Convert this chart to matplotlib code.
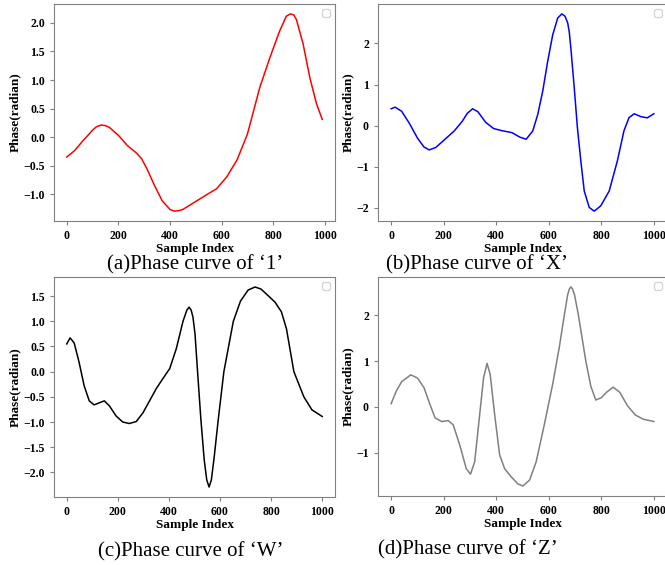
import matplotlib
matplotlib.use('Agg')
import matplotlib.pyplot as plt

plt.rcParams['font.family'] = ['Liberation Serif', 'DejaVu Serif']

# (a) '1'
x_1 = [0, 30, 60, 100, 115, 133, 150, 165, 200, 235, 270, 290, 310, 340, 370, 400, 410,
       420, 435, 450, 500, 550, 580, 620, 660, 700, 748, 787, 825, 851, 867, 880, 890,
       916, 942, 968, 990]
y_1 = [-0.35, -0.24, -0.08, 0.12, 0.18, 0.21, 0.20, 0.17, 0.03, -0.15, -0.28, -0.38,
       -0.55, -0.85, -1.12, -1.27, -1.29, -1.30, -1.29, -1.27, -1.13, -0.99, -0.91, -0.70,
       -0.40, 0.05, 0.87, 1.39, 1.86, 2.12, 2.16, 2.14, 2.06, 1.63, 1.04, 0.58, 0.31]

# (b) 'X'
x_X = [0, 15, 40, 70, 100, 125, 145, 170, 200, 240, 270, 290, 310, 330, 360, 390, 420,
       460, 490, 514, 539, 558, 577, 596, 615, 634, 650, 662, 672, 678, 684, 697, 709,
       722, 735, 754, 773, 798, 830, 861, 886, 905, 925, 950, 975, 1000]
y_X = [0.41, 0.45, 0.35, 0.05, -0.30, -0.52, -0.59, -0.53, -0.36, -0.13, 0.10, 0.30,
       0.41, 0.34, 0.08, -0.07, -0.12, -0.17, -0.28, -0.33, -0.13, 0.27, 0.84, 1.57, 2.21,
       2.62, 2.72, 2.66, 2.50, 2.28, 1.89, 0.92, -0.05, -0.86, -1.59, -1.99, -2.08, -1.95,
       -1.59, -0.86, -0.13, 0.19, 0.29, 0.22, 0.19, 0.29]

# (c) 'W'
x_W = [0, 13, 29, 48, 68, 88, 107, 127, 147, 167, 193, 219, 245, 272, 298, 324, 350,
       376, 403, 429, 455, 470, 479, 487, 494, 502, 512, 525, 538, 548, 557, 566, 577,
       593, 615, 652, 680, 710, 737, 760, 790, 815, 840, 860, 889, 928, 960, 1000]
y_W = [0.55, 0.67, 0.57, 0.19, -0.28, -0.58, -0.66, -0.62, -0.58, -0.68, -0.88, -1.00,
       -1.03, -0.99, -0.82, -0.58, -0.34, -0.14, 0.06, 0.46, 1.00, 1.22, 1.28, 1.22, 1.08,
       0.75, 0.0, -0.95, -1.75, -2.15, -2.29, -2.15, -1.70, -0.95, 0.0, 1.0, 1.40, 1.62,
       1.68, 1.64, 1.50, 1.38, 1.19, 0.85, 0.0, -0.50, -0.76, -0.89]

# (d) 'Z'
x_Z = [0, 20, 40, 75, 100, 125, 148, 167, 192, 217, 236, 261, 286, 302, 318, 337, 352,
       365, 377, 394, 413, 432, 457, 482, 501, 527, 552, 583, 615, 640, 659, 672, 678,
       684, 690, 698, 713, 741, 760, 779, 800, 820, 845, 870, 900, 930, 960, 1000]
y_Z = [0.07, 0.35, 0.55, 0.70, 0.63, 0.42, 0.05, -0.24, -0.32, -0.30, -0.39, -0.83,
       -1.35, -1.47, -1.20, -0.17, 0.64, 0.95, 0.71, -0.17, -1.05, -1.35, -1.53, -1.68,
       -1.73, -1.60, -1.20, -0.39, 0.50, 1.30, 2.0, 2.45, 2.57, 2.62, 2.58, 2.45, 2.0, 1.0,
       0.45, 0.15, 0.20, 0.32, 0.43, 0.32, 0.02, -0.18, -0.27, -0.32]

panels = [
    (x_1, y_1, 'red', '(a)Phase curve of \u20181\u2019'),
    (x_X, y_X, 'blue', '(b)Phase curve of \u2018X\u2019'),
    (x_W, y_W, 'black', '(c)Phase curve of \u2018W\u2019'),
    (x_Z, y_Z, 'gray', '(d)Phase curve of \u2018Z\u2019'),
]

W, H = 665, 565
# axes boxes in pixels: left, top, right, bottom (right column runs past the edge)
boxes = [(54, 4, 335, 221), (378, 4, 667, 221), (54, 277, 335, 497), (378, 277, 667, 496)]
captions = [(195, 265), (477, 265), (191, 552), (468, 550)]

fig = plt.figure(figsize=(W / 100, H / 100), dpi=100)

for (x, y, color, title), (l, t, r, b), (cx, cy) in zip(panels, boxes, captions):
    ax = fig.add_axes([l / W, 1 - b / H, (r - l) / W, (b - t) / H])
    ax.plot(x, y, color=color, linewidth=1.1)
    ax.set_xticks([0, 200, 400, 600, 800, 1000])
    ax.set_xlabel('Sample Index', fontsize=9.5, fontweight='bold', labelpad=1)
    ax.set_ylabel('Phase(radian)', fontsize=9.5, fontweight='bold', labelpad=2)
    for s in ax.spines.values():
        s.set_color('gray')
    ax.tick_params(colors='gray', labelcolor='black', labelsize=8.5, length=3)
    for lab in ax.get_xticklabels() + ax.get_yticklabels():
        lab.set_fontweight('bold')
    ax.legend(handles=[], loc='upper right', fontsize=7)
    fig.text(cx / W, 1 - cy / H, title, fontsize=15, ha='center', va='center')

fig.savefig('out.png', dpi=100)
